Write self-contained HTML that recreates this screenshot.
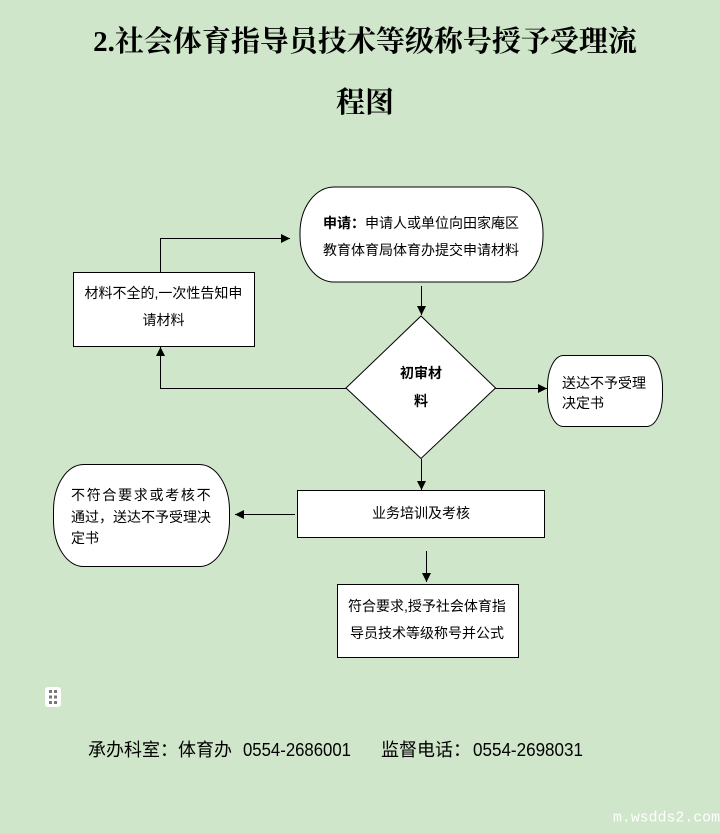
<!DOCTYPE html>
<html><head><meta charset="utf-8">
<style>
html,body{margin:0;padding:0;}
body{width:720px;height:834px;background:#cfe6ca;overflow:hidden;position:relative;}
svg{position:absolute;left:0;top:0;}
.t{font-family:"Liberation Sans","Noto Sans CJK SC",sans-serif;font-size:14px;fill:#000;}
</style></head>
<body>
<svg width="720" height="834" viewBox="0 0 720 834" xmlns="http://www.w3.org/2000/svg">
<defs>
<marker id="a" viewBox="0 0 10 10" refX="10" refY="5" markerWidth="9" markerHeight="9" markerUnits="userSpaceOnUse" orient="auto">
<path d="M0,0 L10,5 L0,10 z" fill="#000"/>
</marker>
</defs>
<!-- Title -->
<text x="365" y="42" text-anchor="middle" dominant-baseline="central" style="font-family:'Liberation Serif','Noto Serif CJK SC',serif;font-size:29px;font-weight:bold;" fill="#000">2.社会体育指导员技术等级称号授予受理流</text>
<text x="365" y="103" text-anchor="middle" dominant-baseline="central" style="font-family:'Liberation Serif','Noto Serif CJK SC',serif;font-size:29px;font-weight:bold;" fill="#000">程图</text>

<!-- shapes -->
<rect x="300" y="187" width="243" height="95" rx="34" ry="46" fill="#fff" stroke="#000" stroke-width="1"/>
<rect x="73.5" y="272.5" width="181" height="74" fill="#fff" stroke="#000" stroke-width="1"/>
<polygon points="421,316 495.5,388 421,458.5 346,388" fill="#fff" stroke="#000" stroke-width="1"/>
<rect x="547.5" y="355.5" width="115" height="71" rx="16" ry="31" fill="#fff" stroke="#000" stroke-width="1"/>
<rect x="297.5" y="490.5" width="247" height="47" fill="#fff" stroke="#000" stroke-width="1"/>
<rect x="53.5" y="464.5" width="176" height="102" rx="30" ry="46" fill="#fff" stroke="#000" stroke-width="1"/>
<rect x="337.5" y="584.5" width="181" height="73" fill="#fff" stroke="#000" stroke-width="1"/>

<!-- connectors -->
<g stroke="#000" stroke-width="1" fill="none">
<line x1="421.5" y1="286" x2="421.5" y2="315" marker-end="url(#a)"/>
<line x1="495" y1="388.5" x2="547" y2="388.5" marker-end="url(#a)"/>
<polyline points="346,388.5 160.5,388.5 160.5,347" marker-end="url(#a)"/>
<polyline points="160.5,272 160.5,238.5 290,238.5" marker-end="url(#a)"/>
<line x1="421.5" y1="459" x2="421.5" y2="490" marker-end="url(#a)"/>
<line x1="295" y1="514.5" x2="235" y2="514.5" marker-end="url(#a)"/>
<line x1="426.5" y1="551" x2="426.5" y2="582" marker-end="url(#a)"/>
</g>

<!-- node text -->
<text class="t" x="323" y="223" dominant-baseline="central"><tspan font-weight="bold">申请：</tspan>申请人或单位向田家庵区</text>
<text class="t" x="323" y="250" dominant-baseline="central">教育体育局体育办提交申请材料</text>

<text class="t" x="163.5" y="293" text-anchor="middle" dominant-baseline="central">材料不全的,一次性告知申</text>
<text class="t" x="163.5" y="320" text-anchor="middle" dominant-baseline="central">请材料</text>

<text class="t" x="421" y="373" text-anchor="middle" dominant-baseline="central" font-weight="bold">初审材</text>
<text class="t" x="421" y="401" text-anchor="middle" dominant-baseline="central" font-weight="bold">料</text>

<text class="t" x="562" y="383" dominant-baseline="central">送达不予受理</text>
<text class="t" x="562" y="403" dominant-baseline="central">决定书</text>

<text class="t" x="421" y="513" text-anchor="middle" dominant-baseline="central">业务培训及考核</text>

<text class="t" x="71" y="495" dominant-baseline="central" letter-spacing="1.7">不符合要求或考核不</text>
<text class="t" x="71" y="517" dominant-baseline="central">通过，送达不予受理决</text>
<text class="t" x="71" y="538" dominant-baseline="central">定书</text>

<text class="t" x="427" y="606" text-anchor="middle" dominant-baseline="central">符合要求,授予社会体育指</text>
<text class="t" x="427" y="633" text-anchor="middle" dominant-baseline="central">导员技术等级称号并公式</text>

<!-- icon -->
<rect x="45" y="687" width="16" height="20" rx="3" fill="#fff"/>
<g fill="#777">
<rect x="49" y="690" width="3" height="3"/><rect x="54" y="690" width="3" height="3"/>
<rect x="49" y="695.5" width="3" height="3"/><rect x="54" y="695.5" width="3" height="3"/>
<rect x="49" y="701" width="3" height="3"/><rect x="54" y="701" width="3" height="3"/>
</g>

<!-- footer -->
<text x="88" y="750" dominant-baseline="central" style="font-family:'Liberation Sans','Noto Sans CJK SC',sans-serif;font-size:18px;" fill="#000">承办科室：体育办</text>
<text x="243" y="750" dominant-baseline="central" textLength="108" lengthAdjust="spacingAndGlyphs" style="font-family:'Liberation Sans',sans-serif;font-size:18px;" fill="#000">0554-2686001</text>
<text x="381" y="750" dominant-baseline="central" style="font-family:'Liberation Sans','Noto Sans CJK SC',sans-serif;font-size:18px;" fill="#000">监督电话：</text>
<text x="473" y="750" dominant-baseline="central" textLength="110" lengthAdjust="spacingAndGlyphs" style="font-family:'Liberation Sans',sans-serif;font-size:18px;" fill="#000">0554-2698031</text>

<!-- watermark -->
<text x="613" y="818" dominant-baseline="central" textLength="107" lengthAdjust="spacingAndGlyphs" style="font-family:'Liberation Mono',monospace;font-size:15px;" fill="#fff">m.wsdds2.com</text>
</svg>
</body></html>
